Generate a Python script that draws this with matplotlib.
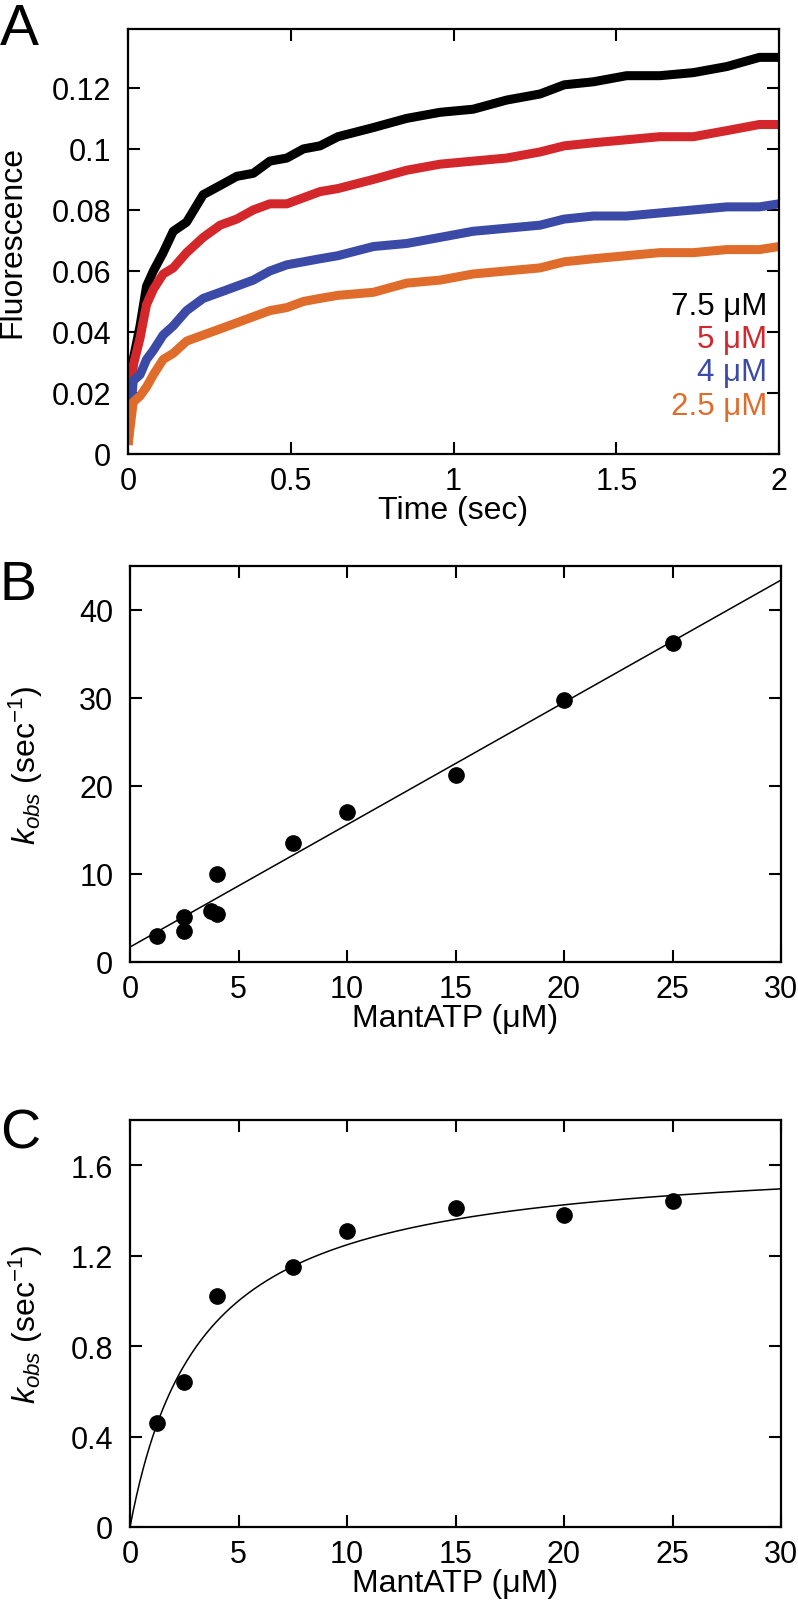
import matplotlib
matplotlib.use("Agg")
import matplotlib.pyplot as plt
import numpy as np

plt.rcParams['font.family'] = ['Liberation Sans', 'DejaVu Sans']
plt.rcParams['mathtext.fontset'] = 'custom'
plt.rcParams['mathtext.rm'] = 'Liberation Sans'
plt.rcParams['mathtext.it'] = 'Liberation Sans:italic'

# ---- Panel A: fluorescence traces ----
time_s = [0, 0.016, 0.037, 0.057, 0.078, 0.108, 0.139, 0.18, 0.231, 0.283, 0.334,
          0.385, 0.436, 0.488, 0.539, 0.59, 0.645, 0.754, 0.856, 0.959, 1.06, 1.163,
          1.266, 1.34, 1.43, 1.532, 1.634, 1.737, 1.84, 1.94, 2.0]
fl_75 = [0.004, 0.031, 0.042, 0.055, 0.060, 0.066, 0.073, 0.076, 0.085, 0.088, 0.091,
         0.092, 0.096, 0.097, 0.100, 0.101, 0.104, 0.107, 0.110, 0.112, 0.113, 0.116,
         0.118, 0.121, 0.122, 0.124, 0.124, 0.125, 0.127, 0.130, 0.130]
fl_5 = [0.004, 0.029, 0.038, 0.049, 0.054, 0.059, 0.061, 0.066, 0.071, 0.075, 0.077,
        0.080, 0.082, 0.082, 0.084, 0.086, 0.087, 0.090, 0.093, 0.095, 0.096, 0.097,
        0.099, 0.101, 0.102, 0.103, 0.104, 0.104, 0.106, 0.108, 0.108]
fl_4 = [0.003, 0.024, 0.026, 0.031, 0.034, 0.039, 0.042, 0.047, 0.051, 0.053, 0.055,
        0.057, 0.060, 0.062, 0.063, 0.064, 0.065, 0.068, 0.069, 0.071, 0.073, 0.074,
        0.075, 0.077, 0.078, 0.078, 0.079, 0.080, 0.081, 0.081, 0.082]
fl_25 = [0.003, 0.017, 0.019, 0.022, 0.026, 0.031, 0.033, 0.037, 0.039, 0.041, 0.043,
         0.045, 0.047, 0.048, 0.050, 0.051, 0.052, 0.053, 0.056, 0.057, 0.059, 0.060,
         0.061, 0.063, 0.064, 0.065, 0.066, 0.066, 0.067, 0.067, 0.068]
trace_labels = ['7.5 μM', '5 μM', '4 μM', '2.5 μM']
trace_colors = ['#000000', '#d3272b', '#3a4aa6', '#e06c2c']

# ---- Panel B: linear dependence ----
b_conc = [1.25, 2.5, 2.5, 3.75, 4, 4, 7.5, 10, 15, 20, 25]
b_kobs = [2.9, 5.1, 3.5, 5.8, 5.4, 10.0, 13.5, 17.1, 21.2, 29.8, 36.3]
b_slope = 1.39
b_intercept = 1.7

# ---- Panel C: hyperbolic dependence ----
c_conc = [1.25, 2.5, 4, 7.5, 10, 15, 20, 25]
c_kobs = [0.458, 0.642, 1.02, 1.148, 1.31, 1.409, 1.379, 1.44]
c_kmax = 1.66
c_K = 3.3

W, H = 798, 1624
fig = plt.figure(figsize=(W / 100, H / 100), dpi=100)

def frac(l, t, r, b):
    return [l / W, 1 - b / H, (r - l) / W, (b - t) / H]

tick_fs = 22
lab_fs = 23

def style(ax):
    for s in ax.spines.values():
        s.set_linewidth(1.6)
    ax.tick_params(direction='in', length=8.5, width=1.5, top=True, right=True,
                   labelsize=tick_fs)
    ax.tick_params(axis='y', pad=12)
    ax.tick_params(axis='x', pad=9)

axA = fig.add_axes(frac(128, 30, 779, 455))
for y, c in zip([fl_75, fl_5, fl_4, fl_25], trace_colors):
    axA.plot(time_s, y, color=c, lw=6.5, solid_joinstyle='round', solid_capstyle='butt')
axA.set_xlim(0, 2)
axA.set_ylim(0, 0.1393)
axA.set_xticks([0, 0.5, 1, 1.5, 2])
axA.set_xticklabels(['0', '0.5', '1', '1.5', '2'])
axA.set_yticks([0, 0.02, 0.04, 0.06, 0.08, 0.1, 0.12])
axA.set_yticklabels(['0', '0.02', '0.04', '0.06', '0.08', '0.1', '0.12'])
style(axA)
axA.set_xlabel('Time (sec)', fontsize=lab_fs, labelpad=-1)
axA.set_ylabel('Fluorescence', fontsize=lab_fs)
axA.yaxis.set_label_coords(-0.155, 0.5)
for i, (lab, c) in enumerate(zip(trace_labels, trace_colors)):
    axA.text(0.982, 0.348 - i * 0.078, lab, color=c, fontsize=22.5,
             transform=axA.transAxes, ha='right', va='center')

klabel = r'$k_{obs}$ (sec$^{-1}$)'

axB = fig.add_axes(frac(130, 567, 781, 963))
xx = np.linspace(0, 30, 200)
axB.plot(xx, b_slope * xx + b_intercept, color='black', lw=1.1)
axB.plot(b_conc, b_kobs, 'o', color='black', ms=11)
axB.set_xlim(0, 30)
axB.set_ylim(0, 45)
axB.set_xticks([0, 5, 10, 15, 20, 25, 30])
axB.set_yticks([0, 10, 20, 30, 40])
style(axB)
axB.set_xlabel('MantATP (μM)', fontsize=lab_fs, labelpad=-1)
axB.set_ylabel(klabel, fontsize=lab_fs)
axB.yaxis.set_label_coords(-0.13, 0.5)

axC = fig.add_axes(frac(130, 1121, 781, 1528))
xc = np.linspace(0, 30, 400)
axC.plot(xc, c_kmax * xc / (c_K + xc), color='black', lw=1.1)
axC.plot(c_conc, c_kobs, 'o', color='black', ms=11)
axC.set_xlim(0, 30)
axC.set_ylim(0, 1.8)
axC.set_xticks([0, 5, 10, 15, 20, 25, 30])
axC.set_yticks([0, 0.4, 0.8, 1.2, 1.6])
axC.set_yticklabels(['0', '0.4', '0.8', '1.2', '1.6'])
style(axC)
axC.set_xlabel('MantATP (μM)', fontsize=lab_fs, labelpad=-1)
axC.set_ylabel(klabel, fontsize=lab_fs)
axC.yaxis.set_label_coords(-0.13, 0.5)

fig.text(0.0, 1 - 45 / H, 'A', fontsize=42, ha='left', va='baseline')
fig.text(0.0, 1 - 600 / H, 'B', fontsize=40, ha='left', va='baseline')
fig.text(0.0, 1 - 1149 / H, 'C', fontsize=40, ha='left', va='baseline')

fig.savefig('out.png', dpi=100)
